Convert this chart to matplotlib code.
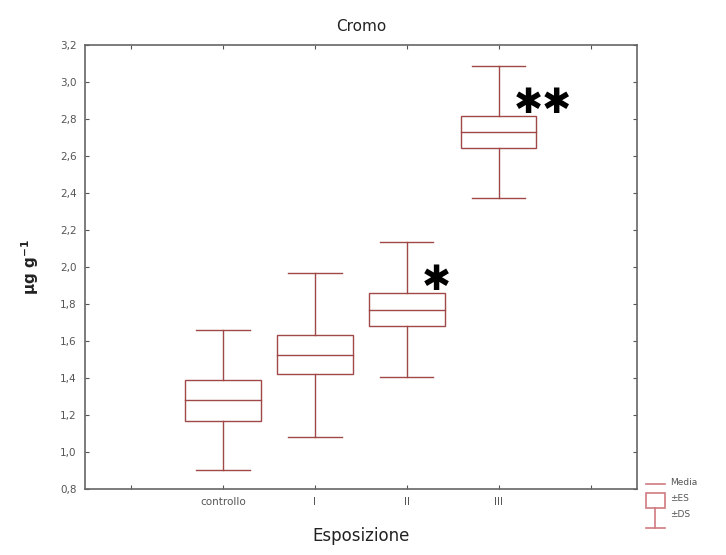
import matplotlib.pyplot as plt
from matplotlib.patches import Rectangle
from matplotlib.lines import Line2D

# Dati (media, errore standard, deviazione standard)
gruppi = ['controllo', 'I', 'II', 'III']
media = [1.28, 1.525, 1.77, 2.73]
es = [0.11, 0.105, 0.087, 0.087]
ds = [0.38, 0.445, 0.365, 0.355]
asterischi = ['', '', '✱', '✱✱']
yticks = [0.8, 1.0, 1.2, 1.4, 1.6, 1.8, 2.0, 2.2, 2.4, 2.6, 2.8, 3.0, 3.2]

col = '#a04848'
grigio = '#555555'

fig = plt.figure(figsize=(7.26, 5.55), dpi=100)
ax = fig.add_axes([0.117, 0.119, 0.760, 0.800])

largh_box = 0.82
largh_cap = 0.58
for i, g in enumerate(gruppi):
    x = i + 1
    m, e, d = media[i], es[i], ds[i]
    ax.add_patch(Rectangle((x - largh_box / 2, m - e), largh_box, 2 * e,
                           fill=False, edgecolor=col, lw=1.0))
    ax.plot([x - largh_box / 2, x + largh_box / 2], [m, m], color=col, lw=1.0)
    ax.plot([x, x], [m + e, m + d], color=col, lw=1.0)
    ax.plot([x, x], [m - e, m - d], color=col, lw=1.0)
    ax.plot([x - largh_cap / 2, x + largh_cap / 2], [m + d, m + d], color=col, lw=1.0)
    ax.plot([x - largh_cap / 2, x + largh_cap / 2], [m - d, m - d], color=col, lw=1.0)
    if asterischi[i]:
        ax.text(x + largh_box / 2 - 0.25, m + e + 0.07, asterischi[i],
                fontsize=25, family='DejaVu Sans',
                ha='left', va='center', color='black')

ax.set_xlim(-0.5, 5.5)
ax.set_ylim(0.8, 3.2)
ax.set_xticks(range(6))
ax.set_xticklabels([''] + gruppi + [''])
ax.set_yticks(yticks)
ax.set_yticklabels([f'{v:.1f}'.replace('.', ',') for v in yticks])
ax.tick_params(direction='in', length=3, width=0.8, top=True, right=True,
               labelsize=7.5, labelcolor=grigio, color=grigio, pad=6)
for s in ax.spines.values():
    s.set_color('#666666')
    s.set_linewidth(1.2)

ax.set_title('Cromo', fontsize=11, color='#222222', pad=10)
ax.set_xlabel('Esposizione', fontsize=12, color='#222222', labelpad=14)
ax.set_ylabel('μg g$^{\\mathbf{-1}}$', fontsize=11, fontweight='bold',
              color='#222222', labelpad=14)

# Legenda a lato
leg = fig.add_axes([0.88, 0.03, 0.12, 0.12])
leg.set_xlim(0, 1)
leg.set_ylim(0, 1)
leg.axis('off')
lcol = '#d07a80'
leg.add_line(Line2D([0.08, 0.30], [0.82, 0.82], color=lcol, lw=1.2))
leg.add_patch(Rectangle((0.08, 0.46), 0.22, 0.22, fill=False, edgecolor=lcol, lw=1.2))
leg.add_line(Line2D([0.19, 0.19], [0.46, 0.16], color=lcol, lw=1.2))
leg.add_line(Line2D([0.08, 0.30], [0.16, 0.16], color=lcol, lw=1.2))
leg.text(0.36, 0.84, 'Media', fontsize=6.5, color=grigio, va='center')
leg.text(0.36, 0.60, '±ES', fontsize=6.5, color=grigio, va='center')
leg.text(0.36, 0.36, '±DS', fontsize=6.5, color=grigio, va='center')

plt.savefig('out.png', dpi=100)
